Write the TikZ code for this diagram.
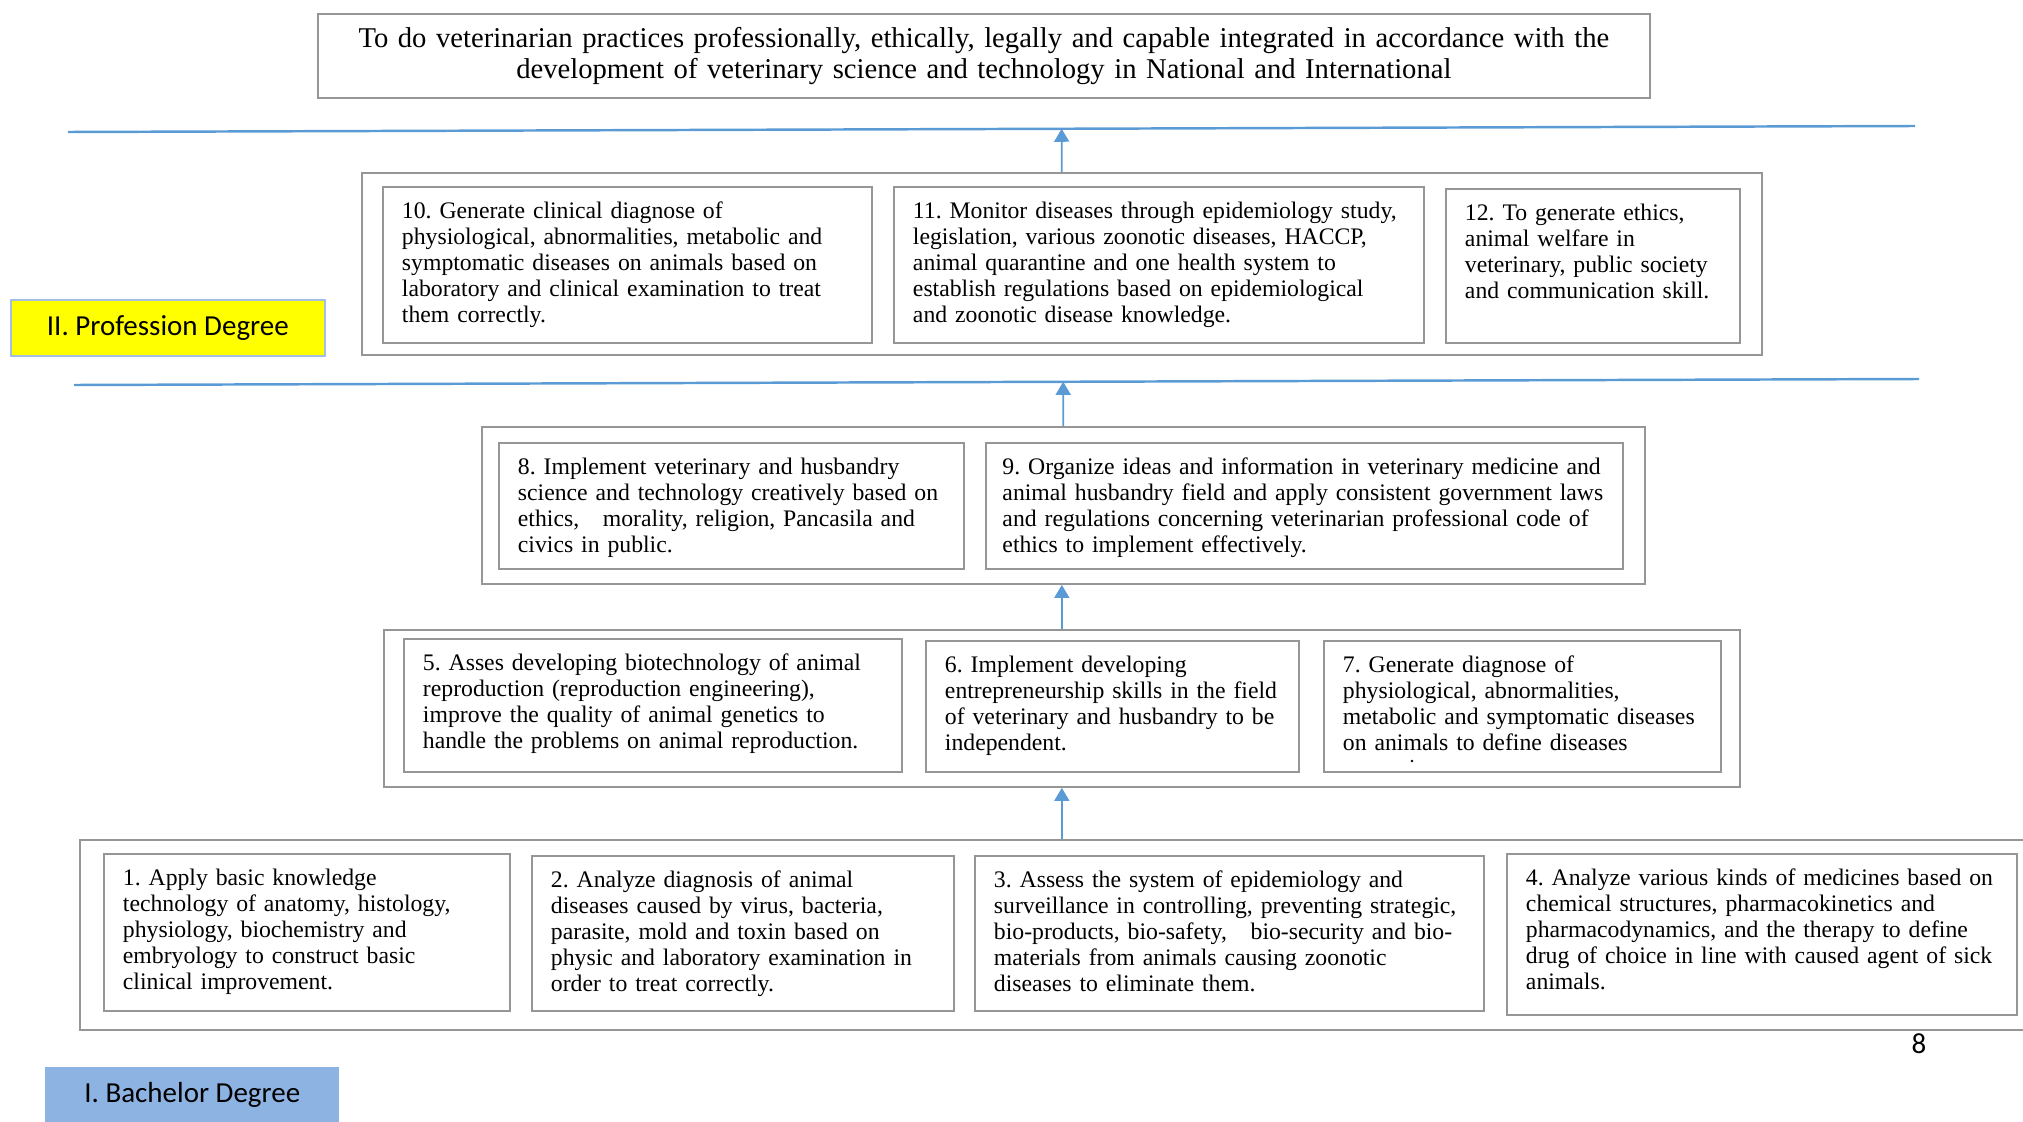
\documentclass[tikz,border=0pt]{standalone}
\usepackage{fontspec}
\setmainfont{Liberation Serif}
\newfontfamily\labelfont{Carlito}
\usepackage{xcolor}
\usetikzlibrary{arrows.meta,calc}

\definecolor{boxgray}{RGB}{150,150,150}
\definecolor{lineblue}{RGB}{91,155,213}
\definecolor{levelyellow}{RGB}{255,255,0}
\definecolor{levelblue}{RGB}{141,179,226}
\definecolor{levelrim}{RGB}{165,190,225}
\frenchspacing

\begin{document}
\begin{tikzpicture}[x=0.02cm, y=-0.02cm,
    outcome/.style={draw=boxgray, line width=1.1pt, anchor=north west, align=left,
        inner xsep=0.38cm, inner ysep=0pt, text height=0.64cm,
        font=\fontsize{13.5}{14.8}\selectfont},
    group/.style={draw=boxgray, line width=1.1pt, anchor=north west, inner sep=0pt},
    level/.style={anchor=north west, inner sep=0pt, minimum height=1.12cm,
        font=\labelfont\fontsize{16.5}{18}\selectfont},
    divider/.style={draw=lineblue, line width=1.4pt},
    uparrow/.style={draw=lineblue, line width=1pt, -{Triangle[length=0.26cm, width=0.3cm]}}]
    \useasboundingbox (0,0) rectangle (2023,1122);
    %\draw[help lines, step=100] (0,0) grid (2023,1122);

    % goal
    \node[draw=boxgray, line width=1.1pt, anchor=north west, align=center,
          text width=25.9cm, minimum height=1.68cm, inner xsep=0.37cm, inner ysep=0pt,
          font=\fontsize{16.3}{17.6}\selectfont] (goal) at (317,13)
        {To do veterinarian practices professionally, ethically, legally and capable integrated in accordance with the\\
         development of veterinary science and technology in National and International};

    \coordinate (d1a) at (68,132);
    \coordinate (d1b) at (1915,126);
    \coordinate (d2a) at (74,385);
    \coordinate (d2b) at (1919,379);
    \draw[divider] (d1a) -- (d1b);
    \draw[divider] (d2a) -- (d2b);

    % profession degree
    \node[group, minimum width=28cm, minimum height=3.64cm] (grpII) at (361,172) {};
    \node[outcome, text width=9.02cm, text depth=2.48cm] (o10) at (382,186)
        {10. Generate clinical diagnose of\\
         physiological, abnormalities, metabolic and\\
         symptomatic diseases on animals based on\\
         laboratory and clinical examination to treat\\
         them correctly.};
    \node[outcome, text width=9.84cm, text depth=2.48cm] (o11) at (893,186)
        {11. Monitor diseases through epidemiology study,\\
         legislation, various zoonotic diseases, HACCP,\\
         animal quarantine and one health system to\\
         establish regulations based on epidemiological\\
         and zoonotic disease knowledge.};
    \node[outcome, text width=5.12cm, text depth=2.44cm] (o12) at (1445,188)
        {12. To generate ethics,\\
         animal welfare in\\
         veterinary, public society\\
         and communication skill.};
    \node[level, fill=levelyellow, draw=levelrim, line width=1pt, minimum width=6.28cm] (prof) at (10,299)
        {II. Profession Degree};

    % bachelor degree, upper rows
    \node[group, minimum width=23.26cm, minimum height=3.14cm] (grp89) at (481,426) {};
    \node[outcome, text width=8.54cm, text depth=1.88cm] (o8) at (498,442)
        {8. Implement veterinary and husbandry\\
         science and technology creatively based on\\
         ethics,\ \ \ morality, religion, Pancasila and\\
         civics in public.};
    \node[outcome, text width=12.08cm, inner xsep=0.33cm, text depth=1.88cm] (o9) at (985,442)
        {9. Organize ideas and information in veterinary medicine and\\
         animal husbandry field and apply consistent government laws\\
         and regulations concerning veterinarian professional code of\\
         ethics to implement effectively.};

    \node[group, minimum width=27.12cm, minimum height=3.14cm] (grp57) at (383,629) {};
    \node[outcome, text width=9.2cm, text depth=2.02cm] (o5) at (403,638)
        {5. Asses developing biotechnology of animal\\
         reproduction (reproduction engineering),\\
         improve the quality of animal genetics to\\
         handle the problems on animal reproduction.};
    \node[outcome, text width=6.7cm, text depth=1.98cm] (o6) at (925,640)
        {6. Implement developing\\
         entrepreneurship skills in the field\\
         of veterinary and husbandry to be\\
         independent.};
    \node[outcome, text width=7.18cm, text depth=1.98cm] (o7) at (1323,640)
        {7. Generate diagnose of\\
         physiological, abnormalities,\\
         metabolic and symptomatic diseases\\
         on animals to define diseases};
    \fill (1412,761) circle (0.75pt);

    % bachelor degree, basic row
    \node[group, minimum width=39.22cm, minimum height=3.8cm] (grp14) at (79,839) {};
    \node[outcome, text width=7.36cm, text depth=2.5cm] (o1) at (103,853)
        {1. Apply basic knowledge\\
         technology of anatomy, histology,\\
         physiology, biochemistry and\\
         embryology to construct basic\\
         clinical improvement.};
    \node[outcome, text width=7.68cm, text depth=2.46cm] (o2) at (531,855)
        {2. Analyze diagnosis of animal\\
         diseases caused by virus, bacteria,\\
         parasite, mold and toxin based on\\
         physic and laboratory examination in\\
         order to treat correctly.};
    \node[outcome, text width=9.42cm, text depth=2.46cm] (o3) at (974,855)
        {3. Assess the system of epidemiology and\\
         surveillance in controlling, preventing strategic,\\
         bio-products, bio-safety,\ \ \ bio-security and bio-\\
         materials from animals causing zoonotic\\
         diseases to eliminate them.};
    \node[outcome, text width=9.44cm, text depth=2.58cm] (o4) at (1506,853)
        {4. Analyze various kinds of medicines based on\\
         chemical structures, pharmacokinetics and\\
         pharmacodynamics, and the therapy to define\\
         drug of choice in line with caused agent of sick\\
         animals.};

    \node[inner sep=0pt, font=\labelfont\fontsize{16.5}{18}\selectfont] (page) at (1919,1044) {8};
    \node[level, fill=levelblue, minimum width=5.88cm] (bach) at (45,1067) {I. Bachelor Degree};

    \draw[uparrow] (grpII.north) -- ($(d1a)!(grpII.north)!(d1b)$);
    \draw[uparrow] (grp89.north) -- ($(d2a)!(grp89.north)!(d2b)$);
    \draw[uparrow] (grp57.north) -- (grp57.north |- grp89.south);
    \draw[uparrow] (grp57.south |- grp14.north) -- (grp57.south);
\end{tikzpicture}
\end{document}
